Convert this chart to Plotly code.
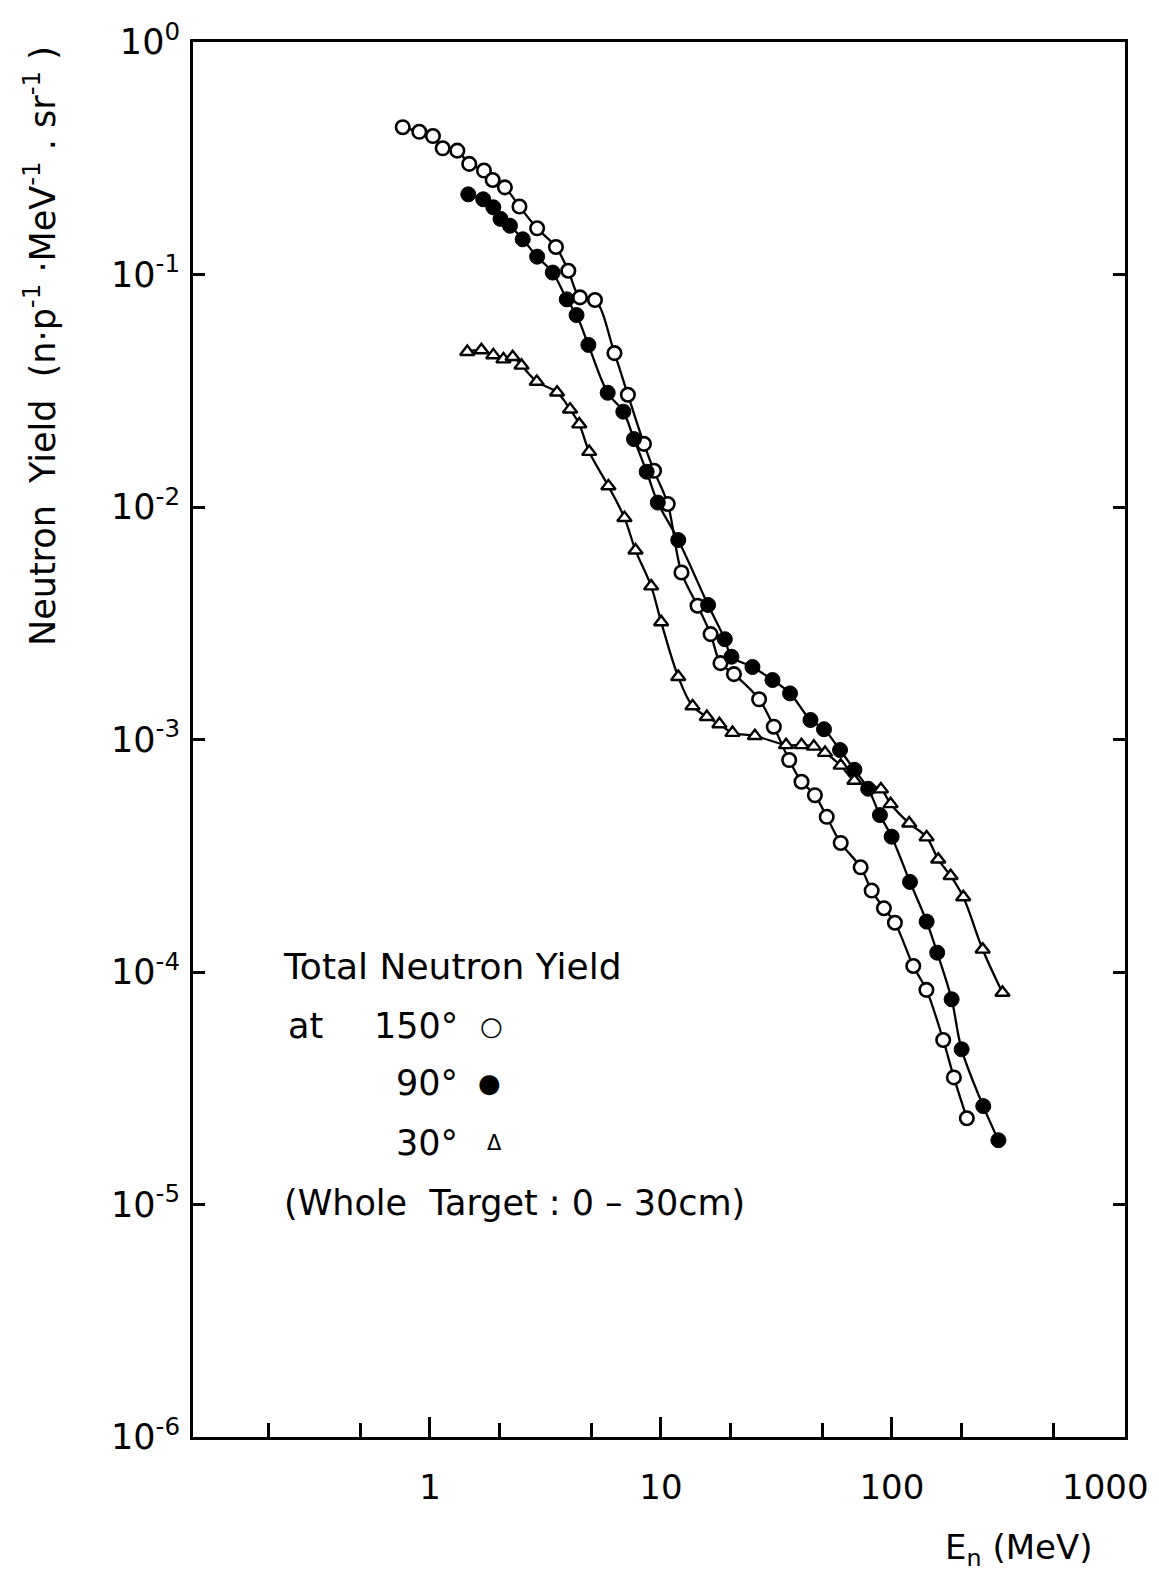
import plotly.graph_objects as go

# ---- data (E_n in MeV, yield in n/p/MeV/sr) ----
e150_x = [0.762, 0.899, 1.03, 1.135, 1.313, 1.479, 1.713, 1.868, 2.11, 2.44, 2.91, 3.51,
          3.97, 4.46, 5.18, 6.29, 7.19, 8.44, 9.33, 10.7, 12.27, 14.4, 16.4, 18.1, 20.7,
          26.6, 30.8, 35.9, 40.6, 46.4, 52.2, 60.0, 73.2, 81.7, 92.3, 103, 123.7, 141,
          166.7, 185.4, 211]
e150_y = [0.430, 0.411, 0.394, 0.349, 0.341, 0.299, 0.280, 0.255, 0.237, 0.196, 0.1580,
          0.1313, 0.1038, 0.0797, 0.0777, 0.0459, 0.0304, 0.01868, 0.01431, 0.0103,
          0.00523, 0.00376, 0.00284, 0.00213, 0.00191, 0.001489, 0.001135, 0.000816,
          0.000658, 0.000576, 0.000465, 0.000359, 0.000282, 0.000224, 0.000188,
          0.0001629, 0.0001061, 0.0000838, 0.0000510, 0.0000352, 0.0000235]

e90_x = [1.465, 1.70, 1.88, 2.02, 2.22, 2.52, 2.91, 3.40, 3.91, 4.31, 4.85, 5.88, 6.87,
         7.64, 8.67, 9.69, 11.88, 16.0, 18.9, 20.2, 24.9, 30.4, 36.2, 44.4, 50.8, 59.6,
         68.8, 78.9, 88.7, 99.7, 119.7, 141.3, 157, 181.3, 200.3, 248.5, 289]
e90_y = [0.2212, 0.2106, 0.1946, 0.1735, 0.1621, 0.1417, 0.1193, 0.1019, 0.0782, 0.0669,
         0.0498, 0.0310, 0.0257, 0.01959, 0.01418, 0.01045, 0.00721, 0.00379, 0.00270,
         0.00227, 0.00205, 0.001802, 0.001579, 0.001213, 0.001107, 0.000901, 0.000741,
         0.000614, 0.000473, 0.000382, 0.000244, 0.0001647, 0.0001211, 0.0000763,
         0.0000465, 0.0000265, 0.0000189]

e30_x = [1.45, 1.67, 1.88, 2.08, 2.28, 2.49, 2.90, 3.55, 4.04, 4.43, 4.89, 5.92, 6.95,
         7.76, 9.07, 10.02, 11.88, 13.7, 15.8, 17.9, 20.4, 25.5, 34.8, 40.6, 45.9, 51.3,
         60.0, 68.8, 89.6, 98.7, 118.8, 141.3, 158.6, 179.5, 203.6, 247, 301]
e30_y = [0.0465, 0.0473, 0.0450, 0.0432, 0.0442, 0.0406, 0.0346, 0.0311, 0.0263, 0.0227,
         0.01728, 0.01230, 0.00898, 0.00651, 0.00456, 0.00320, 0.00186, 0.001392,
         0.001252, 0.001165, 0.001069, 0.001036, 0.000947, 0.000947, 0.000933, 0.000877,
         0.000773, 0.000665, 0.000611, 0.000528, 0.000436, 0.000380, 0.000305, 0.000259,
         0.000210, 0.0001250, 0.0000815]

x_major = [1, 10, 100]
x_major_text = ["1", "10", "100"]
x_minor = [0.2, 0.5, 2, 5, 20, 50, 200, 500]
y_major = [1e0, 1e-1, 1e-2, 1e-3, 1e-4, 1e-5, 1e-6]
y_major_text = ["10<sup>0</sup>", "10<sup>-1</sup>", "10<sup>-2</sup>", "10<sup>-3</sup>",
                "10<sup>-4</sup>", "10<sup>-5</sup>", "10<sup>-6</sup>"]

FONT = "DejaVu Sans"
NB = "\u00a0"
L, R, T, B = 193, 1125, 42, 1437
fig = go.Figure()

line = dict(color="black", width=2.3, shape="spline", smoothing=1.0)
fig.add_trace(go.Scatter(x=e150_x, y=e150_y, mode="lines+markers", line=line,
                         marker=dict(symbol="circle", size=13.5, color="white",
                                     line=dict(color="black", width=2.6))))
fig.add_trace(go.Scatter(x=e90_x, y=e90_y, mode="lines+markers", line=line,
                         marker=dict(symbol="circle", size=15, color="black",
                                     line=dict(color="black", width=1))))
fig.add_trace(go.Scatter(x=e30_x, y=e30_y, mode="lines+markers", line=line,
                         marker=dict(symbol="triangle-up", size=12.5, color="white",
                                     line=dict(color="black", width=2.4))))

fig.update_layout(
    width=1159, height=1577,
    margin=dict(l=L, r=1159 - R, t=T, b=1577 - B, autoexpand=False),
    paper_bgcolor="white", plot_bgcolor="white",
    showlegend=False,
    font=dict(family=FONT, color="black", size=34),
    xaxis=dict(type="log", range=[-1.026, 3.009], showgrid=False, zeroline=False,
               automargin=False,
               showline=True, linecolor="black", linewidth=3, mirror=True,
               ticks="inside", ticklen=20, tickwidth=2.5, tickcolor="black",
               tickvals=x_major, ticktext=x_major_text, ticklabelstandoff=18,
               tickfont=dict(size=34, family=FONT),
               minor=dict(tickvals=x_minor, ticks="inside", ticklen=14, tickwidth=2.5,
                          tickcolor="black", showgrid=False)),
    yaxis=dict(type="log", range=[-6, 0], showgrid=False, zeroline=False,
               automargin=False,
               showline=True, linecolor="black", linewidth=3, mirror="ticks",
               ticks="inside", ticklen=12, tickwidth=2.5, tickcolor="black",
               tickvals=y_major, ticktext=y_major_text, ticklabelstandoff=3,
               tickfont=dict(size=35, family=FONT)),
)

def ann(text, x_px, y_px, xanchor="left", size=35, **kw):
    fig.add_annotation(text=text, xref="paper", yref="paper",
                       x=(x_px - L) / (R - L), y=(B - y_px) / (B - T),
                       xanchor=xanchor, yanchor="middle", showarrow=False,
                       font=dict(family=FONT, size=size, color="black"), **kw)

# label of the 1000 tick (kept inside the page, as in the reference)
fig.add_annotation(text="1000", x=3, xref="x", y=0, yref="paper", yanchor="top",
                   xanchor="center", xshift=-17, yshift=-28, showarrow=False,
                   font=dict(family=FONT, size=34, color="black"))

ann(f"Neutron{NB}{NB}Yield{NB}{NB}(n·p<sup>-1</sup>{NB}·MeV<sup>-1</sup>{NB}.{NB}sr<sup>-1</sup>{NB})",
    40, 346, xanchor="center", size=35, textangle=-90)
ann("E<sub>n</sub> (MeV)", 1018, 1549, xanchor="center", size=34)

ann("Total Neutron Yield", 281, 967, size=36)
ann("at", 286, 1026)
ann("150°", 460, 1026, xanchor="right")
ann("○", 491, 1026, xanchor="center", size=26)
ann("90°", 460, 1083, xanchor="right")
ann("●", 489, 1083, xanchor="center", size=26)
ann("30°", 460, 1143, xanchor="right")
ann("Δ", 494, 1143, xanchor="center", size=21)
ann(f"(Whole{NB}{NB}Target{NB}:{NB}0 – 30cm)", 282, 1203)

fig.write_html("out.html")
